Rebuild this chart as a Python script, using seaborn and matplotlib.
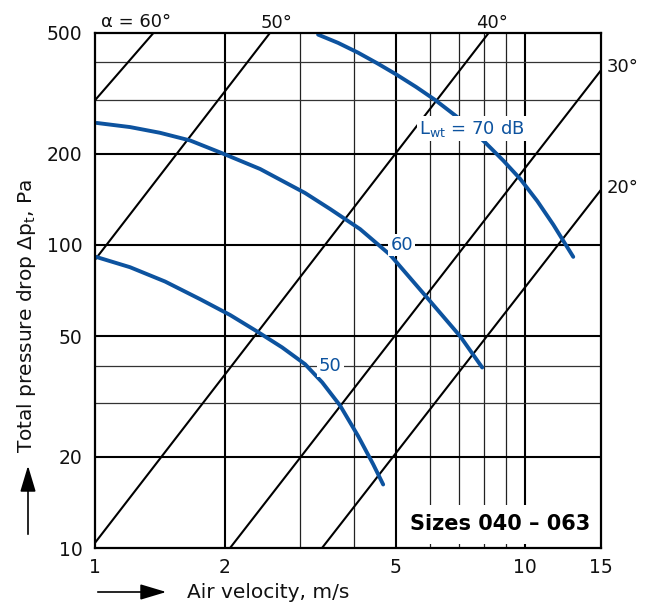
import matplotlib
matplotlib.use("Agg")
import matplotlib.pyplot as plt
import seaborn as sns
import pandas as pd
from matplotlib.patches import Rectangle, FancyArrowPatch

# ---------------- data ----------------
x_ticks = [1, 2, 5, 10, 15]
y_ticks = [10, 20, 50, 100, 200, 500]
x_grid_major = [2, 5, 10]
x_grid_minor = [3, 4, 6, 7, 8, 9]
y_grid_major = [20, 50, 100, 200]
y_grid_minor = [30, 40, 300, 400]

angle_labels = ["α = 60°", "50°", "40°", "30°", "20°"]
angle_x_start = [1.0, 1.0, 1.0, 2.06, 3.37]
angle_y_start = [300, 89.3, 10.4, 10, 10]
angle_x_end = [1.367, 2.55, 8.22, 15, 15]
angle_y_end = [500, 500, 500, 376.7, 152]

lwt_50_x = [1.0, 1.206, 1.455, 1.755, 2.061, 2.381, 2.722, 3.078, 3.373,
            3.713, 4.089, 4.431, 4.675]
lwt_50_y = [91.5, 84.4, 75.7, 66.2, 58.7, 51.8, 45.9, 40.4, 35.2,
            29.5, 23.4, 18.9, 16.2]
lwt_60_x = [1.009, 1.206, 1.416, 1.664, 1.985, 2.419, 3.078, 3.520, 4.133,
            4.853, 5.917, 7.063, 7.943]
lwt_60_y = [252.5, 244.7, 234.3, 221.0, 200.0, 178.0, 148.3, 131.3, 112.7,
            92.7, 66.9, 49.9, 39.4]
lwt_70_x = [3.300, 3.674, 4.089, 4.527, 5.012, 5.579, 6.175, 7.063, 8.072,
            8.889, 9.736, 10.665, 11.62, 12.93]
lwt_70_y = [493.9, 463.8, 430.5, 397.4, 365.1, 331.7, 300.6, 259.5, 217.6,
            189.8, 165.0, 139.5, 116.6, 91.3]

curve_labels = ["50", "60", "L$_{\\mathrm{wt}}$ = 70 dB"]
curve_label_x = [3.52, 5.16, 7.53]
curve_label_y = [40, 100, 242]

size_text = "Sizes 040 – 063"
x_label = "Air velocity, m/s"
y_label = "Total pressure drop Δp$_\\mathrm{t}$, Pa"

# ---------------- style ----------------
sns.set_theme(style="white")
plt.rcParams["font.family"] = ["DejaVu Sans"]
plt.rcParams["mathtext.fontset"] = "dejavusans"

BLUE = "#0d539f"
W, H = 649, 608

fig = plt.figure(figsize=(W / 100, H / 100), dpi=100)
fig.patch.set_facecolor("white")
ax = fig.add_axes([95 / W, 1 - 548 / H, 506 / W, 515 / H])
ax.set_xscale("log")
ax.set_yscale("log")
ax.set_xlim(1, 15)
ax.set_ylim(10, 500)

# grid
for v in x_grid_major:
    ax.axvline(v, color="black", lw=1.5, zorder=1)
for v in x_grid_minor:
    ax.axvline(v, color="#222222", lw=0.9, zorder=1)
for v in y_grid_major:
    ax.axhline(v, color="black", lw=1.5, zorder=1)
for v in y_grid_minor:
    ax.axhline(v, color="#333333", lw=0.9, zorder=1)

# angle lines
angle_df = pd.DataFrame({
    "x": [v for pair in zip(angle_x_start, angle_x_end) for v in pair],
    "y": [v for pair in zip(angle_y_start, angle_y_end) for v in pair],
    "line": [lab for lab in angle_labels for _ in range(2)],
})
sns.lineplot(data=angle_df, x="x", y="y", units="line", estimator=None,
             sort=False, color="black", lw=1.5, ax=ax, zorder=2, legend=False)

# angle labels
top_offsets = [(-17, 6), (7, 5), (3, 5)]
for i in range(3):
    ax.annotate(angle_labels[i], xy=(angle_x_end[i], angle_y_end[i]),
                xytext=top_offsets[i], textcoords="offset pixels",
                ha="center", va="baseline", fontsize=13, color="#111111",
                annotation_clip=False)
right_offsets = [(6, 3), (6, 2)]
for j, i in enumerate([3, 4]):
    ax.annotate(angle_labels[i], xy=(angle_x_end[i], angle_y_end[i]),
                xytext=right_offsets[j], textcoords="offset pixels",
                ha="left", va="center", fontsize=13, color="#111111",
                annotation_clip=False)

# Lwt curves
curve_df = pd.DataFrame({
    "x": lwt_50_x + lwt_60_x + lwt_70_x,
    "y": lwt_50_y + lwt_60_y + lwt_70_y,
    "curve": ["50"] * len(lwt_50_x) + ["60"] * len(lwt_60_x) + ["70"] * len(lwt_70_x),
})
sns.lineplot(data=curve_df, x="x", y="y", units="curve", estimator=None,
             sort=False, color=BLUE, lw=2.8, ax=ax, zorder=3, legend=False)
for ln in ax.lines[-1:]:
    ln.set_solid_joinstyle("round")

for lab, lx, ly in zip(curve_labels, curve_label_x, curve_label_y):
    ax.text(lx, ly, lab, ha="center", va="center", fontsize=13, color=BLUE,
            zorder=5, bbox=dict(boxstyle="square,pad=0.12", fc="white", ec="none"))

# sizes box
ax.add_patch(Rectangle((303 / 506, 4 / 515), 201 / 506, 39 / 515,
                       transform=ax.transAxes, fc="white", ec="none", zorder=4))
ax.text((500 - 95) / 506, 23.5 / 515, size_text, transform=ax.transAxes,
        ha="center", va="center", fontsize=15, fontweight="bold",
        family=["Liberation Sans Narrow", "DejaVu Sans Condensed", "DejaVu Sans"],
        color="black", zorder=6)

# axes styling
for s in ax.spines.values():
    s.set_visible(True)
    s.set_color("black")
    s.set_linewidth(1.6)
    s.set_zorder(7)
ax.set_xticks(x_ticks)
ax.set_xticklabels([str(v) for v in x_ticks])
ax.set_yticks(y_ticks)
ax.set_yticklabels([str(v) for v in y_ticks])
ax.minorticks_off()
ax.tick_params(axis="both", length=0, labelsize=13.5, colors="#111111")
ax.tick_params(axis="x", pad=7)
ax.tick_params(axis="y", pad=9)
ax.set_xlabel("")
ax.set_ylabel("")
ax.grid(False)

# axis titles with arrows
fig.text(187 / W, 1 - 592 / H, x_label, ha="left", va="center", fontsize=14.5,
         color="#111111")
fig.patches.append(FancyArrowPatch(
    (95 / W, 1 - 592 / H), (169 / W, 1 - 592 / H), transform=fig.transFigure,
    arrowstyle="-|>,head_length=0.8,head_width=0.24", mutation_scale=20,
    color="black", lw=1.2))
fig.text(27 / W, 1 - 316 / H, y_label, ha="center", va="center", rotation=90,
         fontsize=14.5, color="#111111")
fig.patches.append(FancyArrowPatch(
    (28 / W, 1 - 537 / H), (28 / W, 1 - 463 / H), transform=fig.transFigure,
    arrowstyle="-|>,head_length=0.8,head_width=0.24", mutation_scale=20,
    color="black", lw=1.2))

fig.savefig("out.png", dpi=100, facecolor="white")
